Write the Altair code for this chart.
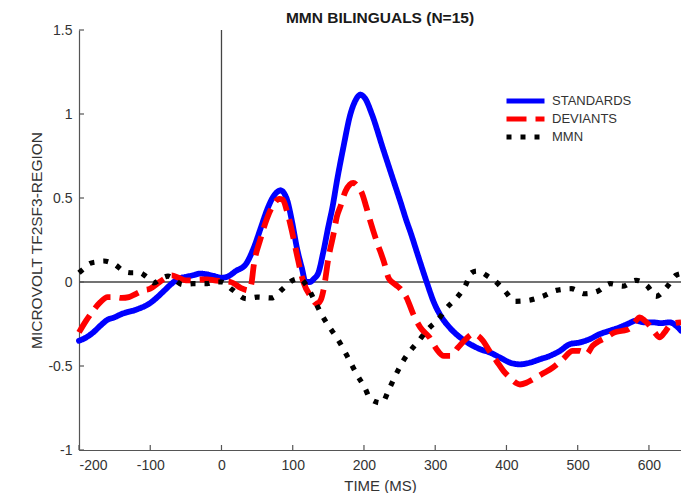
import altair as alt
import pandas as pd

# ---------------- data ----------------
std_t = [-200, -190, -180, -170, -160, -150, -140, -120, -100, -90, -80, -70, -60, -50, -40, -30, -20, -10, 0,
         10, 20, 34, 45, 55, 64, 73, 83, 92, 99, 106, 113, 118, 124, 130, 136, 143, 150, 156, 162, 171, 181,
         188, 195, 202, 211, 227, 244, 251, 260, 265, 276, 288, 298, 309, 320, 335, 349, 363, 377, 391, 405,
         419, 433, 447, 461, 475, 489, 503, 517, 531, 545, 559, 570, 582, 593, 605, 617, 629, 638, 645]
std_v = [-0.35, -0.33, -0.30, -0.26, -0.225, -0.21, -0.19, -0.165, -0.125, -0.09, -0.05, -0.01, 0.02, 0.03,
         0.04, 0.05, 0.045, 0.035, 0.025, 0.035, 0.065, 0.105, 0.20, 0.32, 0.43, 0.51, 0.545, 0.49, 0.36,
         0.20, 0.08, 0.0, 0.0, 0.02, 0.055, 0.18, 0.33, 0.45, 0.60, 0.80, 1.0, 1.08, 1.115, 1.09, 1.0, 0.79,
         0.57, 0.48, 0.36, 0.30, 0.155, 0.0, -0.12, -0.21, -0.27, -0.33, -0.37, -0.40, -0.42, -0.45, -0.48,
         -0.49, -0.48, -0.46, -0.44, -0.41, -0.37, -0.36, -0.34, -0.31, -0.29, -0.27, -0.25, -0.23, -0.24,
         -0.24, -0.245, -0.24, -0.26, -0.29]

dev_t = [-200, -190, -180, -170, -160, -150, -140, -130, -120, -110, -100, -90, -80, -70, -60, -50, -40, -30,
         -20, -10, 0, 13, 27, 38, 42, 45, 55, 64, 73, 81, 86, 92, 99, 106, 115, 125, 134, 139, 144, 150, 157,
         162, 167, 174, 180, 185, 191, 197, 203, 209, 218, 228, 235, 244, 251, 260, 269, 279, 292, 302, 312,
         321, 332, 343, 353, 360, 367, 376, 386, 396, 405, 413, 419, 428, 437, 451, 465, 479, 493, 503, 512,
         521, 531, 540, 552, 563, 572, 580, 587, 594, 601, 608, 615, 622, 629, 636, 645]
dev_v = [-0.30, -0.23, -0.17, -0.12, -0.09, -0.09, -0.095, -0.09, -0.07, -0.05, -0.04, -0.01, 0.02, 0.04,
         0.025, 0.01, 0.01, 0.015, 0.015, 0.01, 0.005, 0.0, -0.035, -0.05, -0.01, 0.09, 0.26, 0.38, 0.46,
         0.495, 0.49, 0.42, 0.30, 0.16, 0.0, -0.085, -0.13, -0.11, -0.03, 0.14, 0.28, 0.39, 0.45, 0.54, 0.58,
         0.59, 0.57, 0.53, 0.45, 0.36, 0.24, 0.12, 0.02, -0.015, -0.04, -0.095, -0.19, -0.27, -0.33, -0.40,
         -0.44, -0.44, -0.39, -0.34, -0.31, -0.32, -0.35, -0.41, -0.47, -0.53, -0.57, -0.60, -0.61, -0.60,
         -0.58, -0.545, -0.51, -0.46, -0.41, -0.41, -0.43, -0.38, -0.35, -0.33, -0.30, -0.29, -0.28, -0.24,
         -0.21, -0.23, -0.26, -0.30, -0.33, -0.30, -0.26, -0.245, -0.24]

mmn_t = [-200, -193, -185, -175, -165, -150, -135, -125, -115, -105, -95, -85, -75, -65, -55, -40, -20, -10,
         0, 15, 35, 50, 70, 85, 100, 110, 120, 130, 140, 150, 160, 170, 180, 190, 200, 210, 225, 235, 245,
         255, 265, 275, 290, 305, 315, 330, 342, 351, 358, 366, 375, 384, 398, 412, 430, 451, 470, 491, 510,
         528, 546, 563, 582, 598, 610, 626, 638, 645]
mmn_v = [0.055, 0.08, 0.11, 0.12, 0.125, 0.105, 0.06, 0.055, 0.055, 0.03, -0.005, 0.02, 0.035, 0.01, -0.015,
         -0.01, -0.01, 0.0, 0.0, -0.045, -0.10, -0.09, -0.095, -0.045, 0.01, 0.02, -0.025, -0.105, -0.19,
         -0.26, -0.32, -0.39, -0.47, -0.55, -0.62, -0.70, -0.72, -0.64, -0.55, -0.47, -0.41, -0.36, -0.28,
         -0.22, -0.16, -0.095, -0.025, 0.055, 0.065, 0.055, 0.03, 0.005, -0.055, -0.115, -0.11, -0.085,
         -0.05, -0.04, -0.07, -0.055, -0.01, -0.025, 0.01, -0.025, -0.085, -0.025, 0.04, 0.05]

series_names = ["STANDARDS", "DEVIANTS", "MMN"]
series_colors = ["#0000ff", "#ff0000", "#000000"]
series_dashes = [[1, 0], [20, 9], [5, 9]]

title_text = ["MMN BILINGUALS (N=15)"]
x_ticks = [-200, -100, 0, 100, 200, 300, 400, 500, 600]
y_ticks = [-1, -0.5, 0, 0.5, 1, 1.5]
x_domain = [-200, 645]
y_domain = [-1, 1.5]

# ---------------- tables ----------------
df = pd.concat([
    pd.DataFrame({"t": std_t, "v": std_v, "series": series_names[0]}),
    pd.DataFrame({"t": dev_t, "v": dev_v, "series": series_names[1]}),
    pd.DataFrame({"t": mmn_t, "v": mmn_v, "series": series_names[2]}),
], ignore_index=True)

hline_df = pd.DataFrame({"t": [x_domain[0]], "t2": [x_domain[1]], "v": [0]})
vline_df = pd.DataFrame({"t": [0], "v": [0], "v2": [y_domain[1]]})
xt_df = pd.DataFrame({"t": x_ticks})
yt_df = pd.DataFrame({"v": y_ticks})
title_df = pd.DataFrame({"label": title_text})

W, H = 602, 420
FONT = "Liberation Sans"
AXIS_COL = "#555555"
TXT_COL = "#333333"

xscale = alt.Scale(domain=x_domain, nice=False, zero=False)
yscale = alt.Scale(domain=y_domain, nice=False, zero=False)

x_axis = alt.Axis(values=x_ticks, ticks=False, grid=False, labelPadding=8, labelFontSize=14,
                  labelFont=FONT, labelColor=TXT_COL, labelExpr="datum.value + ''",
                  domainColor=AXIS_COL, domainWidth=1.2, title="TIME (MS)", titleFont=FONT,
                  titleFontSize=15, titleFontWeight="normal", titleColor=TXT_COL,
                  titleX=301, titleY=40, titleAlign="center", titleBaseline="alphabetic")
y_axis = alt.Axis(values=y_ticks, ticks=False, grid=False, labelPadding=7, labelFontSize=14,
                  labelFont=FONT, labelColor=TXT_COL, labelExpr="datum.value + ''",
                  domainColor=AXIS_COL, domainWidth=1.2, title="MICROVOLT TF2SF3-REGION",
                  titleFont=FONT, titleFontSize=15.5, titleFontWeight="normal", titleColor=TXT_COL,
                  titleX=-43, titleY=210, titleAngle=270, titleAlign="center", titleBaseline="middle")

X = alt.X("t:Q", scale=xscale, axis=x_axis)
Y = alt.Y("v:Q", scale=yscale, axis=y_axis)

color_enc = alt.Color("series:N", scale=alt.Scale(domain=series_names, range=series_colors), title=None)
dash_enc = alt.StrokeDash("series:N", scale=alt.Scale(domain=series_names, range=series_dashes), title=None)

base = alt.Chart(df).encode(x=X, y=Y, color=color_enc, strokeDash=dash_enc)

std_line = base.transform_filter(alt.datum.series == series_names[0]).mark_line(
    strokeWidth=5.8, interpolate="monotone", strokeCap="round", strokeJoin="round")
dev_line = base.transform_filter(alt.datum.series == series_names[1]).mark_line(
    strokeWidth=5.8, interpolate="monotone", strokeCap="butt")
mmn_line = base.transform_filter(alt.datum.series == series_names[2]).mark_line(
    strokeWidth=5.2, interpolate="monotone", strokeCap="butt")

hline = alt.Chart(hline_df).mark_rule(color="#444444", strokeWidth=1.3).encode(x=X, x2="t2:Q", y=Y)
vline = alt.Chart(vline_df).mark_rule(color="#444444", strokeWidth=1.3).encode(x=X, y=Y, y2="v2:Q")

xticks = alt.Chart(xt_df).mark_rule(color=AXIS_COL, strokeWidth=1.2).encode(
    x=X, y=alt.value(H), y2=alt.value(H - 5))
yticks = alt.Chart(yt_df).mark_rule(color=AXIS_COL, strokeWidth=1.2).encode(
    y=Y, x=alt.value(0), x2=alt.value(5))

title_mark = alt.Chart(title_df).mark_text(
    font=FONT, fontSize=15.5, fontWeight="bold", color="#1a1a1a", align="center", baseline="middle"
).encode(text="label:N", x=alt.value(W / 2), y=alt.value(-12))

chart = alt.layer(hline, vline, xticks, yticks, std_line, dev_line, mmn_line, title_mark).properties(
    width=W, height=H,
    autosize=alt.AutoSizeParams(type="none"),
    padding={"left": 71, "top": 22, "right": 0, "bottom": 43},
).configure_view(stroke=None).configure_legend(
    orient="none", legendX=425, legendY=62, padding=0, symbolType="stroke", symbolSize=1444,
    symbolStrokeWidth=5, labelOffset=5, labelFontSize=13, labelFont=FONT, labelColor=TXT_COL,
    clipHeight=18, rowPadding=0, titlePadding=0,
)

chart.save("out.html", embed_options={"renderer": "svg", "actions": False})
